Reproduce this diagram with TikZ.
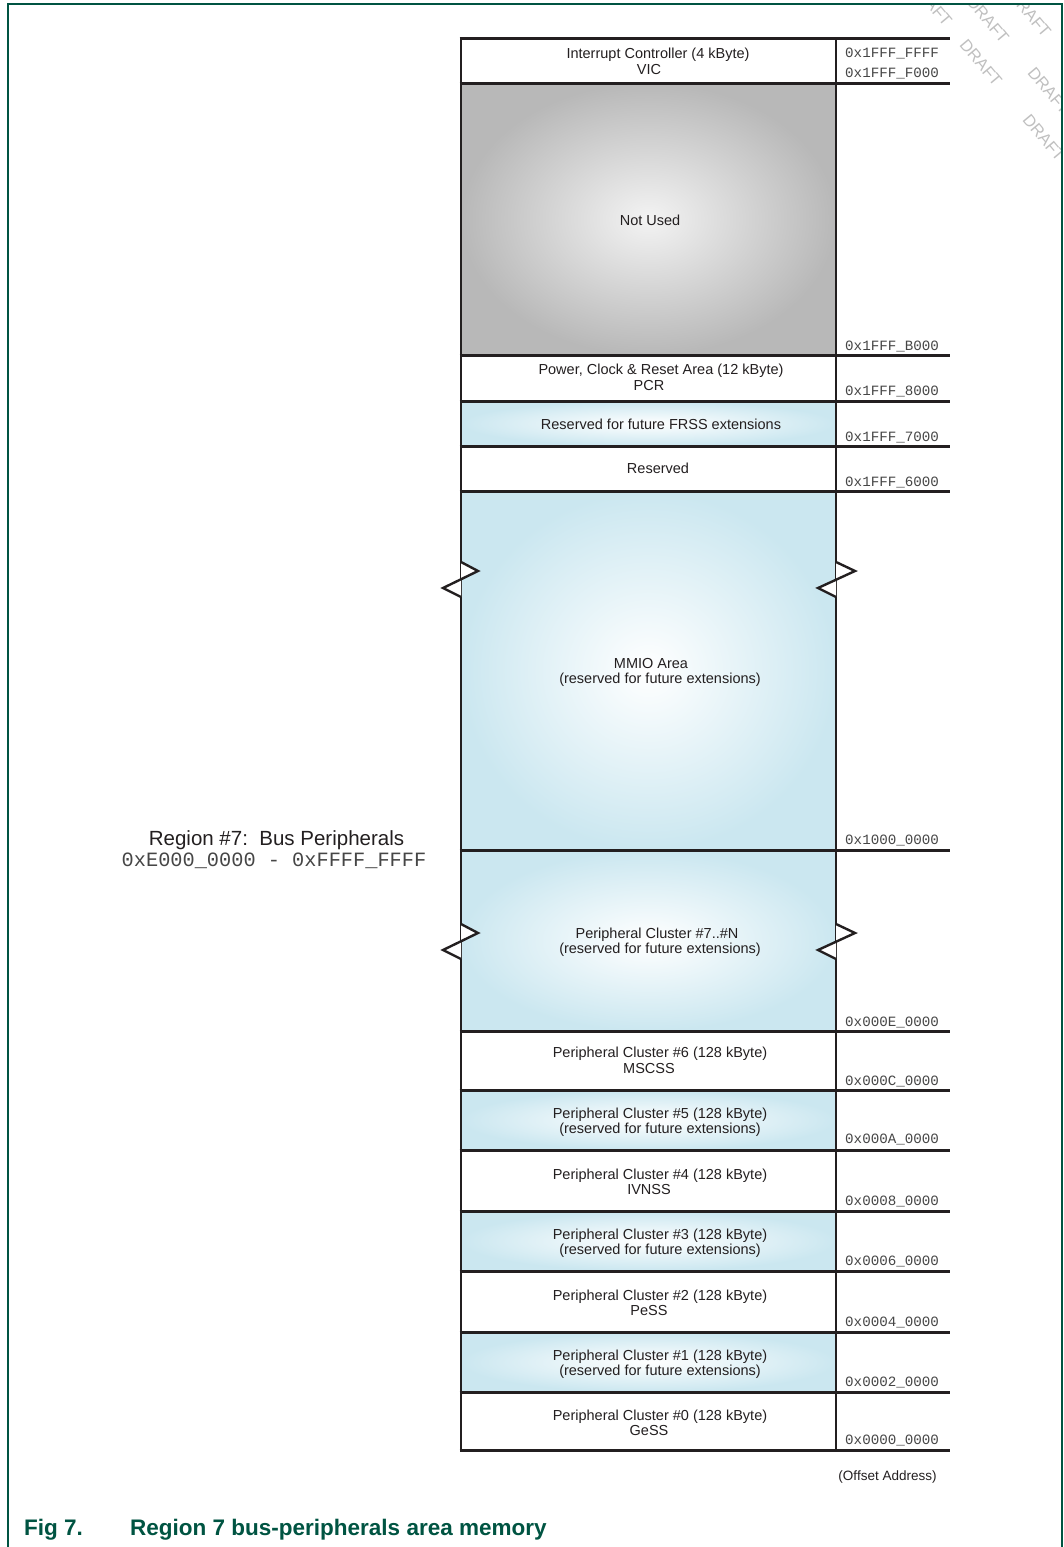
\documentclass[tikz,border=0pt]{standalone}
\usepackage{fontspec}
\setmainfont{Liberation Sans}
\setmonofont{Liberation Mono}
\definecolor{nxpgreen}{RGB}{0,84,66}
\definecolor{edgeblue}{RGB}{203,231,240}
\definecolor{edgegray}{RGB}{184,184,184}
\definecolor{centergray}{RGB}{243,243,243}
\definecolor{ink}{RGB}{35,31,32}
\definecolor{addrgray}{RGB}{70,70,70}
\definecolor{wmgray}{RGB}{192,192,192}
\tikzset{
  membox/.style={rectangle, draw=none, inner sep=0pt, outer sep=0pt, minimum width=375pt},
  plainbox/.style={membox, fill=white},
  bluebox/.style={membox, inner color=white, outer color=edgeblue},
  graybox/.style={membox, inner color=centergray, outer color=edgegray},
  lbl/.style={anchor=base, inner sep=0pt, text=ink, font=\fontsize{14.5}{16}\selectfont},
  addr/.style={anchor=base west, inner sep=0pt, text=addrgray, font=\ttfamily\fontsize{14.2}{16}\selectfont},
  sepline/.style={draw=ink, line width=3pt},
  edgeline/.style={draw=ink, line width=2.6pt},
  breakmark/.style={draw=ink, fill=white, line width=2.4pt, line join=miter},
  wm/.style={anchor=center, inner sep=0pt, text=wmgray, rotate=-50, font=\fontsize{16.5}{16.5}\selectfont}
}
\begin{document}
\begin{tikzpicture}[x=1pt,y=-1pt]
\useasboundingbox (0,0) rectangle (1063,1547);
\fill[white] (0,0) rectangle (1063,1547);

% watermark
\begin{scope}
\clip (8,4) rectangle (1062,1547);
\node[wm] (wm1) at (931,3)    {DRAFT};
\node[wm] (wm2) at (981,63)   {DRAFT};
\node[wm] (wm3) at (1044,138) {DRAFT};
\node[wm] (wm4) at (988,20)   {DRAFT};
\node[wm] (wm5) at (1049,91)  {DRAFT};
\node[wm] (wm6) at (1030,14)  {DRAFT};
\end{scope}

% frame
\draw[nxpgreen, line width=1.6pt] (8,1547) -- (8,4) -- (1062,4) -- (1062,1547);

% memory boxes
\node[plainbox, minimum height=45pt]  (vic)   at (648.5,60.5)  {};
\node[graybox,  minimum height=272pt] (nu)    at (648.5,219)   {};
\node[plainbox, minimum height=46pt]  (pcr)   at (648.5,378)   {};
\node[bluebox,  minimum height=45pt]  (frss)  at (648.5,423.5) {};
\node[plainbox, minimum height=45pt]  (resv)  at (648.5,468.5) {};
\node[bluebox,  minimum height=359pt] (mmio)  at (648.5,670.5) {};
\node[bluebox,  minimum height=181pt] (pc7)   at (648.5,940.5) {};
\node[plainbox, minimum height=59pt]  (pc6)   at (648.5,1060.5) {};
\node[bluebox,  minimum height=60pt]  (pc5)   at (648.5,1120)  {};
\node[plainbox, minimum height=61pt]  (pc4)   at (648.5,1180.5) {};
\node[bluebox,  minimum height=60pt]  (pc3)   at (648.5,1241)  {};
\node[plainbox, minimum height=61pt]  (pc2)   at (648.5,1301.5) {};
\node[bluebox,  minimum height=60pt]  (pc1)   at (648.5,1362)  {};
\node[plainbox, minimum height=58pt]  (pc0)   at (648.5,1421)  {};

% vertical edges
\draw[edgeline] (vic.north west) -- (pc0.south west);
\draw[edgeline] (vic.north east) -- (pc0.south east);

% separators extending to address column
\foreach \b in {vic.north west, vic.south west, nu.south west, pcr.south west, frss.south west, resv.south west, mmio.south west, pc7.south west, pc6.south west, pc5.south west, pc4.south west, pc3.south west, pc2.south west, pc1.south west, pc0.south west}
  \draw[sepline] ([xshift=-1.3pt]\b) -- ++(490.3,0);

% break marks
\draw[breakmark] (461,562) -- (478,571) -- (443,588) -- (461,597);
\draw[breakmark] (836,562) -- (855,571) -- (818,588) -- (836,597);
\draw[breakmark] (461,924) -- (478,933) -- (443,950) -- (461,959);
\draw[breakmark] (836,924) -- (855,933) -- (818,950) -- (836,959);

% box texts
\node[lbl] (t1a) at (658,58)  {Interrupt Controller (4 kByte)};
\node[lbl] (t1b) at (649,74)  {VIC};
\node[lbl] (t2)  at (650,225) {Not Used};
\node[lbl] (t3a) at (661,374) {Power, Clock \& Reset Area (12 kByte)};
\node[lbl] (t3b) at (649,390) {PCR};
\node[lbl] (t4)  at (661,429) {Reserved for future FRSS extensions};
\node[lbl] (t5)  at (658,473) {Reserved};
\node[lbl] (t6a) at (651,668) {MMIO Area};
\node[lbl] (t6b) at (660,683) {(reserved for future extensions)};
\node[lbl] (t7a) at (657,938) {Peripheral Cluster \#7..\#N};
\node[lbl] (t7b) at (660,953) {(reserved for future extensions)};
\node[lbl] (t8a) at (660,1057) {Peripheral Cluster \#6 (128 kByte)};
\node[lbl] (t8b) at (649,1073) {MSCSS};
\node[lbl] (t9a) at (660,1118) {Peripheral Cluster \#5 (128 kByte)};
\node[lbl] (t9b) at (660,1133) {(reserved for future extensions)};
\node[lbl] (t10a) at (660,1179) {Peripheral Cluster \#4 (128 kByte)};
\node[lbl] (t10b) at (649,1194) {IVNSS};
\node[lbl] (t11a) at (660,1239) {Peripheral Cluster \#3 (128 kByte)};
\node[lbl] (t11b) at (660,1254) {(reserved for future extensions)};
\node[lbl] (t12a) at (660,1300) {Peripheral Cluster \#2 (128 kByte)};
\node[lbl] (t12b) at (649,1315) {PeSS};
\node[lbl] (t13a) at (660,1360) {Peripheral Cluster \#1 (128 kByte)};
\node[lbl] (t13b) at (660,1375) {(reserved for future extensions)};
\node[lbl] (t14a) at (660,1420) {Peripheral Cluster \#0 (128 kByte)};
\node[lbl] (t14b) at (649,1435) {GeSS};

% addresses
\node[addr] (a1)  at (845,57)   {0x1FFF\_FFFF};
\node[addr] (a2)  at (845,77)   {0x1FFF\_F000};
\node[addr] (a3)  at (845,350)  {0x1FFF\_B000};
\node[addr] (a4)  at (845,395)  {0x1FFF\_8000};
\node[addr] (a5)  at (845,441)  {0x1FFF\_7000};
\node[addr] (a6)  at (845,486)  {0x1FFF\_6000};
\node[addr] (a7)  at (845,844)  {0x1000\_0000};
\node[addr] (a8)  at (845,1026) {0x000E\_0000};
\node[addr] (a9)  at (845,1085) {0x000C\_0000};
\node[addr] (a10) at (845,1143) {0x000A\_0000};
\node[addr] (a11) at (845,1205) {0x0008\_0000};
\node[addr] (a12) at (845,1265) {0x0006\_0000};
\node[addr] (a13) at (845,1326) {0x0004\_0000};
\node[addr] (a14) at (845,1386) {0x0002\_0000};
\node[addr] (a15) at (845,1444) {0x0000\_0000};

\node[lbl, font=\fontsize{13.5}{15}\selectfont] (off) at (887.5,1480) {(Offset Address)};

% region label
\node[lbl, font=\fontsize{20.5}{22}\selectfont] (reg1) at (276.5,845) {Region \#7:\ \ Bus Peripherals};
\node[anchor=base, inner sep=0pt, text=addrgray, font=\ttfamily\fontsize{20.3}{22}\selectfont] (reg2) at (274,866) {0xE000\_0000 - 0xFFFF\_FFFF};

% caption
\node[anchor=base west, inner sep=0pt, text=nxpgreen, font=\bfseries\fontsize{22.5}{24}\selectfont] (capa) at (24,1535) {Fig 7.};
\node[anchor=base west, inner sep=0pt, text=nxpgreen, font=\bfseries\fontsize{22.5}{24}\selectfont] (capb) at (130,1535) {Region 7 bus-peripherals area memory};
\end{tikzpicture}
\end{document}
